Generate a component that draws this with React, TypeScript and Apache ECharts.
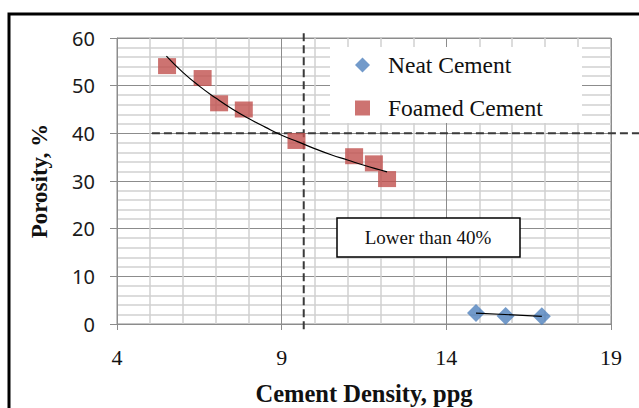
import React, { useEffect, useRef } from "react";
import * as echarts from "echarts";

// Measured points: cement density (ppg) vs porosity (%)
const neatDensity = [14.9, 15.8, 16.9];
const neatPorosity = [2.3, 1.7, 1.6];

const foamedDensity = [5.52, 6.6, 7.1, 7.85, 9.45, 11.2, 11.8, 12.2];
const foamedPorosity = [54.1, 51.6, 46.3, 45.0, 38.4, 35.2, 33.7, 30.4];

// Trend curves
const foamedTrendDensity = [5.5, 6, 6.5, 7, 7.5, 8, 8.5, 9, 9.5, 10, 10.5, 11, 11.5, 12, 12.2];
const foamedTrendPorosity = [56.2, 52.8, 49.9, 47.4, 45.1, 43.1, 41.3, 39.6, 38.2, 36.8, 35.5, 34.4, 33.3, 32.3, 31.9];
const neatTrendDensity = [14.9, 16.9];
const neatTrendPorosity = [2.3, 1.6];

// Guide lines: [x1, y1, x2, y2]
const porosityLimit = 40;
const densityLimit = 9.67;
const guideLines = [
  [5.06, porosityLimit, 19.85, porosityLimit],
  [densityLimit, 61.0, densityLimit, -1.7],
];

const xTicks = [4, 9, 14, 19];
const yTicks = [0, 10, 20, 30, 40, 50, 60];

const zip = (xs: number[], ys: number[]) => xs.map((x, i) => [x, ys[i]]);

export default function App() {
  const ref = useRef<HTMLDivElement>(null);

  useEffect(() => {
    document.documentElement.style.overflow = "hidden";
    document.body.style.margin = "0";
    document.body.style.overflow = "hidden";
    if (!ref.current) return;
    const chart = echarts.init(ref.current, null, { renderer: "svg" });

    const major = "#8c8c8c";
    const minor = "#d0d0d0";
    const dashColor = "#3a3a3a";

    chart.setOption({
      animation: false,
      backgroundColor: "#ffffff",
      grid: {
        left: 117,
        top: 38,
        width: 494,
        height: 286,
        outerBoundsMode: "none",
        containLabel: false,
        show: true,
        borderColor: major,
        borderWidth: 1,
      },
      legend: {
        data: ["Neat Cement", "Foamed Cement"],
        orient: "vertical",
        left: 350,
        top: 48,
        itemWidth: 15,
        itemHeight: 15,
        itemGap: 19,
        z: 5,
        textStyle: {
          fontFamily: "Liberation Serif",
          fontSize: 23.5,
          lineHeight: 22,
          color: "#111",
          padding: [0, 0, 0, 13],
        },
      },
      xAxis: {
        type: "value",
        min: xTicks[0],
        max: xTicks[xTicks.length - 1],
        interval: xTicks[1] - xTicks[0],
        name: "Cement Density, ppg",
        nameLocation: "middle",
        nameGap: 57,
        nameTextStyle: {
          fontFamily: "Liberation Serif",
          fontWeight: "bold",
          fontSize: 24.5,
          color: "#111",
        },
        axisLine: { show: true, onZero: false, lineStyle: { color: major, width: 1 } },
        axisTick: { show: true, length: 6, lineStyle: { color: major } },
        axisLabel: {
          margin: 22,
          fontFamily: "Liberation Serif",
          fontSize: 22,
          color: "#111",
        },
        splitLine: { show: true, lineStyle: { color: major, width: 1 } },
        minorTick: { show: false, splitNumber: 5 },
        minorSplitLine: { show: true, lineStyle: { color: minor, width: 1.5 } },
      },
      yAxis: {
        type: "value",
        min: yTicks[0],
        max: yTicks[yTicks.length - 1],
        interval: yTicks[1] - yTicks[0],
        name: "Porosity, %",
        nameLocation: "middle",
        nameRotate: 90,
        nameGap: 66,
        nameTextStyle: {
          fontFamily: "Liberation Serif",
          fontWeight: "bold",
          fontSize: 23,
          color: "#111",
        },
        axisLine: { show: true, onZero: false, lineStyle: { color: major, width: 1 } },
        axisTick: { show: true, length: 7, lineStyle: { color: major } },
        axisLabel: {
          margin: 22,
          fontFamily: "Noto Sans",
          fontSize: 20,
          color: "#1a1a1a",
        },
        splitLine: { show: true, lineStyle: { color: major, width: 1 } },
        minorTick: { show: false, splitNumber: 5 },
        minorSplitLine: { show: true, lineStyle: { color: minor, width: 1.5 } },
      },
      graphic: [
        // outer frame
        {
          type: "rect",
          z: 10,
          shape: { x: 9, y: 14, width: 640, height: 400 },
          style: { fill: "none", stroke: "#000", lineWidth: 3 },
        },
        // legend panel
        {
          type: "rect",
          z: 3,
          shape: { x: 330, y: 47, width: 252, height: 76 },
          style: { fill: "#ffffff", stroke: "none" },
        },
        // annotation box
        {
          type: "rect",
          z: 6,
          shape: { x: 337, y: 218, width: 183, height: 39 },
          style: { fill: "#ffffff", stroke: "#000", lineWidth: 1.5 },
        },
        {
          type: "text",
          z: 7,
          x: 428,
          y: 237,
          style: {
            text: "Lower than 40%",
            font: "normal 19px 'Liberation Serif', serif",
            fill: "#111",
            align: "center",
            verticalAlign: "middle",
          },
        },
      ],
      series: [
        {
          name: "Limits",
          type: "custom",
          silent: true,
          clip: false,
          z: 4,
          encode: { x: [0, 2], y: [1, 3] },
          data: guideLines,
          renderItem: (_params: any, api: any) => {
            const a = api.coord([api.value(0), api.value(1)]);
            const b = api.coord([api.value(2), api.value(3)]);
            return {
              type: "line",
              shape: { x1: a[0], y1: a[1], x2: b[0], y2: b[1] },
              style: { stroke: dashColor, lineWidth: 2, lineDash: [8, 4], fill: null },
            };
          },
        },
        {
          name: "Foamed trend",
          type: "line",
          smooth: true,
          symbol: "none",
          z: 5,
          lineStyle: { color: "#000", width: 1.2 },
          data: zip(foamedTrendDensity, foamedTrendPorosity),
        },
        {
          name: "Neat trend",
          type: "line",
          symbol: "none",
          z: 5,
          lineStyle: { color: "#000", width: 1.2 },
          data: zip(neatTrendDensity, neatTrendPorosity),
        },
        {
          name: "Neat Cement",
          type: "scatter",
          symbol: "diamond",
          symbolSize: 18,
          z: 4,
          itemStyle: { color: "#4F81BD" },
          data: zip(neatDensity, neatPorosity),
        },
        {
          name: "Foamed Cement",
          type: "scatter",
          symbol: "rect",
          symbolSize: [18, 16],
          z: 4,
          itemStyle: { color: "#C0504D" },
          data: zip(foamedDensity, foamedPorosity),
        },
      ],
    });

    return () => chart.dispose();
  }, []);

  return (
    <div
      ref={ref}
      style={{ position: "fixed", left: 0, top: 0, width: 639, height: 408, overflow: "hidden" }}
    />
  );
}
